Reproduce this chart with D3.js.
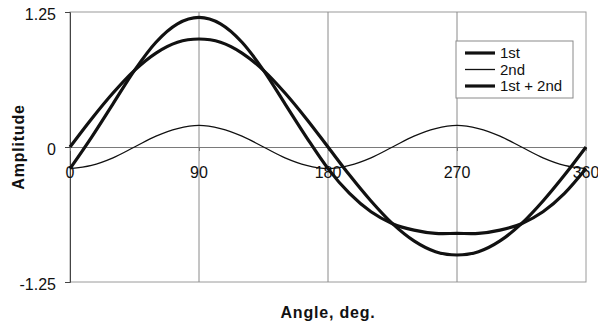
<!DOCTYPE html>
<html lang="en">
<head>
  <meta charset="UTF-8">
  <title>Harmonics</title>
  <style>
    body {
      margin: 0;
      background-color: white;
      font-family: "Liberation Sans", Arial, sans-serif;
    }

    .tick-label {
      font-size: 16px;
      fill: #111;
    }

    .axis-title {
      font-size: 16px;
      font-weight: bold;
      fill: #111;
    }

    .legend-text {
      font-size: 15px;
      fill: #111;
    }
  </style>
</head>
<body>
  <svg id="chart" width="598" height="331"></svg>

  <script src="https://d3js.org/d3.v7.min.js"></script>
  <script>
    // angles in degrees, every 15
    var angles = [0, 15, 30, 45, 60, 75, 90, 105, 120, 135, 150, 165, 180,
                  195, 210, 225, 240, 255, 270, 285, 300, 315, 330, 345, 360];

    var first = [0, 0.26, 0.5, 0.71, 0.87, 0.97, 1, 0.97, 0.87, 0.71, 0.5, 0.26, 0,
                 -0.26, -0.5, -0.71, -0.87, -0.97, -1, -0.97, -0.87, -0.71, -0.5, -0.26, 0];

    var second = [-0.2, -0.17, -0.1, 0, 0.1, 0.17, 0.2, 0.17, 0.1, 0, -0.1, -0.17, -0.2,
                  -0.17, -0.1, 0, 0.1, 0.17, 0.2, 0.17, 0.1, 0, -0.1, -0.17, -0.2];

    var sum = [-0.2, 0.09, 0.4, 0.71, 0.97, 1.14, 1.2, 1.14, 0.97, 0.71, 0.4, 0.09, -0.2,
               -0.43, -0.6, -0.71, -0.77, -0.8, -0.8, -0.8, -0.77, -0.71, -0.6, -0.43, -0.2];

    var xTicks = [0, 90, 180, 270, 360];
    var yTicks = [-1.25, 0, 1.25];
    var yTickLabels = ["-1.25", "0", "1.25"];

    var seriesNames = ["1st", "2nd", "1st + 2nd"];
    var seriesWidths = [3.2, 1.3, 3.2];

    var svg = d3.select("#chart");

    // plot box (note: "top" is reserved on window)
    var plotLeft = 70, plotRight = 586, plotTop = 12, plotBottom = 282;

    var x = d3.scaleLinear().domain([0, 360]).range([plotLeft, plotRight]);
    var y = d3.scaleLinear().domain([-1.25, 1.25]).range([plotBottom, plotTop]);

    // plot frame
    svg.append("rect")
      .attr("x", plotLeft)
      .attr("y", plotTop)
      .attr("width", plotRight - plotLeft)
      .attr("height", plotBottom - plotTop)
      .attr("fill", "none")
      .attr("stroke", "#9a9a9a")
      .attr("stroke-width", 1);

    // vertical gridlines
    svg.selectAll(".vgrid")
      .data(xTicks.slice(1, 4))
      .enter().append("line")
      .attr("class", "vgrid")
      .attr("x1", function(d) { return x(d); })
      .attr("x2", function(d) { return x(d); })
      .attr("y1", plotTop)
      .attr("y2", plotBottom)
      .attr("stroke", "#8a8a8a")
      .attr("stroke-width", 1);

    // y axis on the left
    svg.append("g")
      .attr("transform", "translate(" + plotLeft + ",0)")
      .call(d3.axisLeft(y).tickValues(yTicks).tickSize(5).tickFormat(""))
      .call(function(g) {
        g.select(".domain").attr("stroke", "#444");
        g.selectAll(".tick line").attr("stroke", "#444");
      });

    svg.selectAll(".ylab")
      .data(yTicks)
      .enter().append("text")
      .attr("class", "tick-label")
      .attr("x", 56)
      .attr("y", function(d) { return y(d) + 8; })
      .attr("text-anchor", "end")
      .text(function(d, i) { return yTickLabels[i]; });

    // x axis along zero
    svg.append("g")
      .attr("transform", "translate(0," + y(0) + ")")
      .call(d3.axisBottom(x).tickValues(xTicks).tickSize(4).tickFormat(""))
      .call(function(g) {
        g.select(".domain").attr("stroke", "#7a7a7a");
        g.selectAll(".tick line").attr("stroke", "#7a7a7a");
      });

    svg.selectAll(".xlab")
      .data(xTicks)
      .enter().append("text")
      .attr("class", "tick-label")
      .attr("x", function(d) { return x(d); })
      .attr("y", y(0) + 31)
      .attr("text-anchor", "middle")
      .text(function(d) { return d; });

    // series
    var line = d3.line()
      .x(function(d, i) { return x(angles[i]); })
      .y(function(d) { return y(d); })
      .curve(d3.curveCardinal);

    [first, second, sum].forEach(function(s, k) {
      svg.append("path")
        .datum(s)
        .attr("fill", "none")
        .attr("stroke", "#111")
        .attr("stroke-width", seriesWidths[k])
        .attr("stroke-linejoin", "round")
        .attr("d", line);
    });

    // legend
    var legend = svg.append("g");
    legend.append("rect")
      .attr("x", 456)
      .attr("y", 41)
      .attr("width", 117)
      .attr("height", 57)
      .attr("fill", "white")
      .attr("stroke", "#8a8a8a")
      .attr("stroke-width", 1);

    seriesNames.forEach(function(name, k) {
      var ly = 53 + k * 16.5;
      legend.append("line")
        .attr("x1", 465)
        .attr("x2", 495)
        .attr("y1", ly)
        .attr("y2", ly)
        .attr("stroke", "#111")
        .attr("stroke-width", seriesWidths[k]);
      legend.append("text")
        .attr("class", "legend-text")
        .attr("x", 500)
        .attr("y", ly + 5)
        .text(name);
    });

    // axis titles
    svg.append("text")
      .attr("class", "axis-title")
      .attr("transform", "translate(24,147) rotate(-90)")
      .attr("text-anchor", "middle")
      .attr("letter-spacing", "0.8px")
      .text("Amplitude");

    svg.append("text")
      .attr("class", "axis-title")
      .attr("x", 328)
      .attr("y", 318)
      .attr("text-anchor", "middle")
      .attr("letter-spacing", "0.8px")
      .text("Angle, deg.");
  </script>
</body>
</html>
